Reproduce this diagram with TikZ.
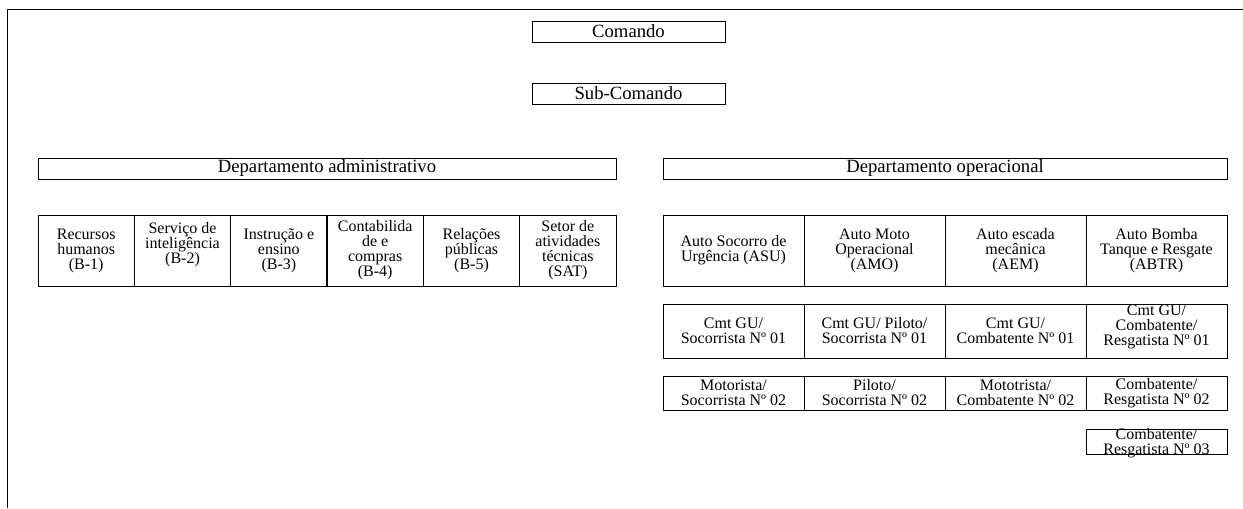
\documentclass[tikz,border=0pt]{standalone}
\usepackage{fontspec}
\setmainfont{Liberation Serif}
\newdimen\pxu
\pxu=0.75pt
\tikzset{
  % one unit = one pixel of the sheet, y grows downwards
  sheet/.style={x=0.75pt, y=-0.75pt},
  rule line/.style={line width=0.75pt},
  box/.style={draw, line width=0.75pt, inner sep=0pt, outer sep=0pt},
  headbox/.style={box, minimum height=15.75pt,
    font=\fontsize{14}{16}\selectfont},
  cell/.style={box, align=center, font=\fontsize{12}{11.25}\selectfont},
  admcell/.style={cell, minimum width=72.25pt, minimum height=53.25pt},
  opcell/.style={cell, minimum width=105.75pt},
  oprow1/.style={opcell, minimum height=53.25pt},
  oprow2/.style={opcell, minimum height=40.5pt},
  oprow3/.style={opcell, minimum height=25.5pt},
  % the last box is shallower than its two lines of text
  oprow4/.style={opcell, inner ysep=-2.8pt, minimum height=18.75pt},
}
\begin{document}
\begin{tikzpicture}[sheet]
\useasboundingbox (0,0) rectangle (1243,508);

% page frame: top and left rules
\coordinate (fbl) at (7,508);
\coordinate (ftl) at (7,9);
\coordinate (ftr) at (1243,9);
\draw[rule line] (fbl) -- (ftl) -- (ftr);

% command levels
\node[headbox, minimum width=144.75pt] (cmd) at (628.5,31.5) {Comando};
\node[headbox, minimum width=144.75pt] (subcmd) at (628.5,93.5) {Sub-Comando};

% departments
\node[headbox, minimum width=433.5pt] (adm) at (327,168.5) {Departamento administrativo};
\node[headbox, minimum width=423pt] (op) at (945,168.5) {Departamento operacional};

% administrative sections
\node[admcell] (b1) at (86.17,250.5) {Recursos\\humanos\\(B-1)};
\node[admcell] (b2) at (182.5,250.5) {Serviço de\\inteligência\\(B-2)\rule[-16\pxu]{0pt}{0pt}};
\node[admcell] (b3) at (278.83,250.5) {Instrução e\\ensino\\(B-3)};
\node[admcell] (b4) at (375.17,250.5) {Contabilida\\de e\\compras\\(B-4)};
\node[admcell] (b5) at (471.5,250.5) {Relações\\públicas\\(B-5)};
\node[admcell] (sat) at (567.83,250.5) {Setor de\\atividades\\técnicas\\(SAT)};

% operational vehicles
\node[oprow1] (asu) at (733.5,250.5) {Auto Socorro de\\Urgência (ASU)};
\node[oprow1] (amo) at (874.5,250.5) {Auto Moto\\Operacional\\(AMO)};
\node[oprow1] (aem) at (1015.5,250.5) {Auto escada\\mecânica\\(AEM)};
\node[oprow1] (abtr) at (1156.5,250.5) {Auto Bomba\\Tanque e Resgate\\(ABTR)};

% crew, first members
\node[oprow2] (asu1) at (733.5,331) {Cmt GU/\\Socorrista Nº 01};
\node[oprow2] (amo1) at (874.5,331) {Cmt GU/ Piloto/\\Socorrista Nº 01};
\node[oprow2] (aem1) at (1015.5,331) {Cmt GU/\\Combatente Nº 01};
\node[oprow2] (abtr1) at (1156.5,331) {Cmt GU/\\Combatente/\\Resgatista Nº 01\rule[-11\pxu]{0pt}{0pt}};

% crew, second members
\node[oprow3] (asu2) at (733.5,393) {Motorista/\\Socorrista Nº 02};
\node[oprow3] (amo2) at (874.5,393) {Piloto/\\Socorrista Nº 02};
\node[oprow3] (aem2) at (1015.5,393) {Mototrista/\\Combatente Nº 02};
\node[oprow3] (abtr2) at (1156.5,393) {Combatente/\\Resgatista Nº 02};

% crew, third member
\node[oprow4] (abtr3) at (1156.5,441.5) {\rule{0pt}{14\pxu}Combatente/\\Resgatista Nº 03};
\end{tikzpicture}
\end{document}
